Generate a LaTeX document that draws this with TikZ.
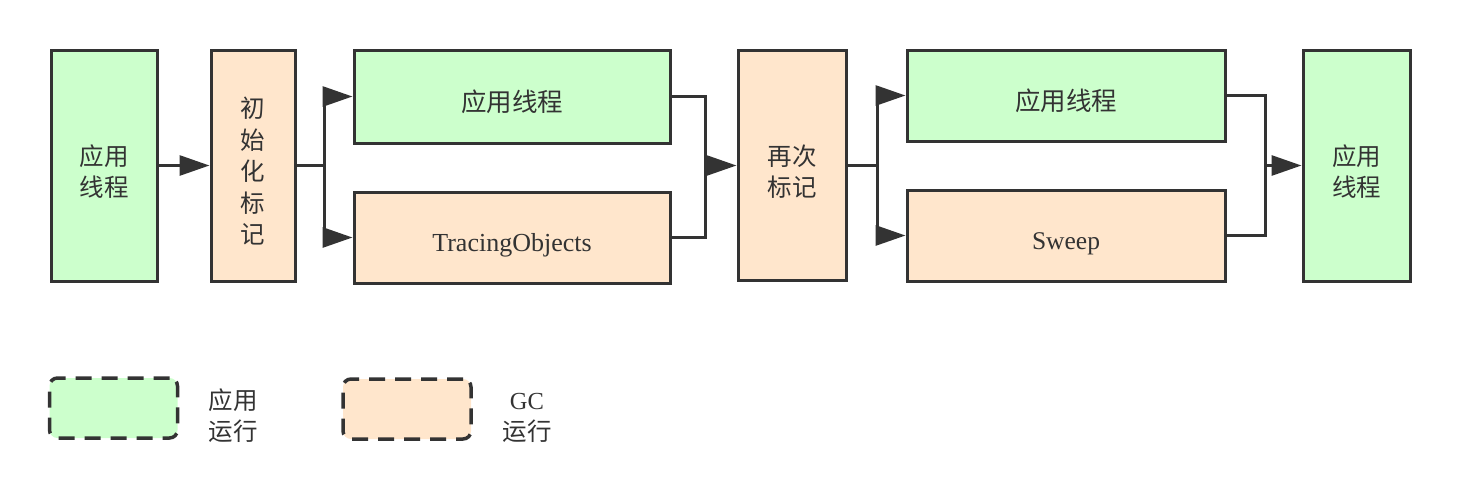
\documentclass[tikz,border=0pt]{standalone}
\usepackage{fontspec}
\setmainfont{Liberation Serif}
\newfontfamily\cjk{Noto Sans CJK SC}
\usepackage{tikz}
\usetikzlibrary{arrows.meta}

\definecolor{appgreen}{HTML}{CCFFCC}
\definecolor{gcpeach}{HTML}{FFE6CC}
\definecolor{edge}{HTML}{333333}

% text sits a little below the middle of its box
\newcommand{\lbl}[2][9pt]{\raisebox{-#1}[\height][\depth]{\begin{tabular}{@{}c@{}}#2\end{tabular}}}

\begin{document}
\begin{tikzpicture}[x=1pt,y=-1pt,
    every node/.style={text=edge,font=\cjk\fontsize{24.5}{31.5}\selectfont,inner sep=0pt},
    box/.style={draw=edge,line width=3pt,minimum width=#1},
    app/.style={box=#1,fill=appgreen},
    gc/.style={box=#1,fill=gcpeach},
    arr/.style={draw=edge,line width=3pt,-{Triangle[length=30pt,width=20pt]}},
    wire/.style={draw=edge,line width=3pt},
    legend/.style={draw=edge,line width=3.5pt,dash pattern=on 16pt off 10pt,rounded corners=8pt,minimum width=128pt,minimum height=60pt}]
    \useasboundingbox (0,0) rectangle (1459,499);
    % first phase
    \node[app=106pt,minimum height=231pt] (app1) at (104,165.5) {\lbl{应用\\线程}};
    \node[gc=84pt,minimum height=231pt] (init) at (253,165.5) {\lbl{\fontsize{24.5}{33}\selectfont 初\\始\\化\\标\\记}};
    \node[app=316pt,minimum height=93pt] (app2) at (512,96.5) {\lbl{\fontsize{25.5}{32}\selectfont 应用线程}};
    \node[gc=316pt,minimum height=91pt] (trace) at (512,237.5) {\lbl[7.5pt]{\rmfamily\fontsize{26}{32}\selectfont TracingObjects}};
    % second phase
    \node[gc=108pt,minimum height=230pt] (remark) at (792,165.5) {\lbl{再次\\标记}};
    \node[app=318pt,minimum height=91pt] (app3) at (1066,95.5) {\lbl{\fontsize{25.5}{32}\selectfont 应用线程}};
    \node[gc=318pt,minimum height=91pt] (sweep) at (1066,235.5) {\lbl[7.5pt]{\rmfamily\fontsize{25.5}{32}\selectfont Sweep}};
    \node[app=107pt,minimum height=231pt] (app4) at (1356.5,165.5) {\lbl{应用\\线程}};
    % joints
    \coordinate (j1) at (324,165.5);
    \coordinate (j2) at (705,165.5);
    \coordinate (j3) at (877,165.5);
    \coordinate (j4) at (1265,165.5);
    \draw[arr] (app1) -- (init);
    \draw[wire] (init) -- (j1);
    \draw[arr] (j1) |- (app2.west);
    \draw[arr] (j1) |- (trace.west);
    \draw[wire] (app2.east) -| (j2) |- (trace.east);
    \draw[arr] (j2) -- (remark.west);
    \draw[wire] (remark) -- (j3);
    \draw[arr] (j3) |- (app3.west);
    \draw[arr] (j3) |- (sweep.west);
    \draw[wire] (app3.east) -| (j4) |- (sweep.east);
    \draw[arr] (j4) -- (app4.west);
    % legend
    \node[legend,fill=appgreen] (lgapp) at (113.5,408) {};
    \node (lgapptext) at (233,416) {\lbl[2.5pt]{应用\\运行}};
    \node[legend,fill=gcpeach] (lggc) at (407,409) {};
    \node (lggctext) at (527,416) {\lbl[2.5pt]{\rmfamily GC\\\cjk 运行}};
\end{tikzpicture}
\end{document}
